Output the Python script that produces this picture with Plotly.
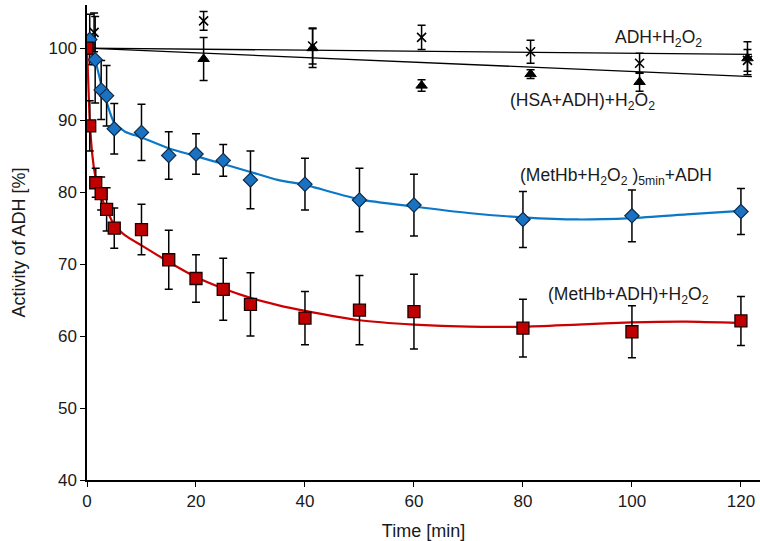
import plotly.graph_objects as go

# ---- data ----
time_red = [0, 0.5, 1.6, 2.6, 3.6, 5, 10, 15, 20, 25, 30, 40, 50, 60, 80, 100, 120]
red_vals = [100, 89.2, 81.3, 79.8, 77.6, 75.0, 74.8, 70.6, 68.0, 66.5, 64.4, 62.5, 63.6, 63.4, 61.1, 60.6, 62.1]
red_err = [0, 3.5, 2.0, 2.3, 3.0, 2.8, 3.5, 4.1, 3.3, 4.3, 4.4, 3.7, 4.8, 5.2, 4.0, 3.6, 3.4]

time_blue = [0, 0.5, 1.5, 2.6, 3.6, 5, 10, 15, 20, 25, 30, 40, 50, 60, 80, 100, 120]
blue_vals = [100, 101.2, 98.4, 94.2, 93.4, 88.8, 88.3, 85.1, 85.3, 84.4, 81.7, 81.1, 78.9, 78.2, 76.2, 76.7, 77.3]
blue_err = [0, 3.5, 6.0, 4.1, 4.2, 3.5, 3.9, 3.3, 2.8, 2.2, 4.0, 3.6, 4.4, 4.3, 3.9, 3.6, 3.2]

time_adh = [0, 1.3, 21.4, 41.4, 61.4, 81.4, 101.4, 121.2]
adh_vals = [100, 102.2, 103.8, 100.3, 101.5, 99.5, 97.9, 98.3]
adh_err = [0, 2.7, 1.3, 2.5, 1.7, 1.6, 1.4, 1.5]

time_hsa = [0, 21.4, 41.4, 61.4, 81.4, 101.4, 121.2]
hsa_vals = [100, 98.5, 100.0, 94.8, 96.4, 95.3, 98.6]
hsa_err = [0, 3.0, 2.7, 0.8, 0.6, 1.3, 2.3]

# fitted curves
fit_red_t = [0, 0.25, 0.5, 1, 1.5, 2, 3, 4, 5, 7, 10, 15, 20, 25, 30, 35, 40, 50, 60, 70, 80, 90, 100, 110, 120]
fit_red_y = [100, 95, 90, 85, 82.3, 80.7, 78.6, 76.9, 75.4, 74, 72.6, 70.3, 68.2, 66.6, 65.3, 64.3, 63.5, 62.2, 61.6, 61.3, 61.3, 61.6, 61.9, 62.0, 61.8]
fit_blue_t = [0, 1.5, 2.6, 3.6, 5, 7, 10, 15, 20, 25, 30, 35, 40, 50, 60, 70, 80, 90, 100, 110, 120]
fit_blue_y = [100, 98.2, 95.0, 92.5, 89.6, 88.4, 87.6, 86.1, 85.0, 83.9, 82.8, 81.7, 81.0, 79.0, 78.0, 77.1, 76.5, 76.2, 76.4, 76.9, 77.4]
fit_line_t = [0, 122]
fit_adh_y = [100, 99.15]
fit_hsa_y = [100, 96.05]

x_ticks = [0, 20, 40, 60, 80, 100, 120]
y_ticks = [40, 50, 60, 70, 80, 90, 100]

FONT = "Liberation Sans, Arial, sans-serif"

L, R, T, B = 87, 0, 5, 61
W, H = 760, 541
pw, ph = W - L - R, H - T - B

fig = go.Figure()

def err(arr):
    return dict(type="data", array=arr, visible=True, color="black", thickness=1.5, width=4)

# fitted lines
fig.add_trace(go.Scatter(x=fit_line_t, y=fit_adh_y, mode="lines", line=dict(color="black", width=1.3), hoverinfo="skip"))
fig.add_trace(go.Scatter(x=fit_line_t, y=fit_hsa_y, mode="lines", line=dict(color="black", width=1.3), hoverinfo="skip"))

# ADH+H2O2 (X markers)
fig.add_trace(go.Scatter(x=time_adh, y=adh_vals, mode="markers", error_y=err(adh_err),
                         marker=dict(symbol="x-thin-open", size=9, color="black", line=dict(color="black", width=1.6))))
# (HSA+ADH)+H2O2 (triangles)
fig.add_trace(go.Scatter(x=time_hsa, y=hsa_vals, mode="markers", error_y=err(hsa_err),
                         marker=dict(symbol="triangle-up", size=10, color="black", line=dict(color="black", width=1))))

# blue series
fig.add_trace(go.Scatter(x=fit_blue_t, y=fit_blue_y, mode="lines", line=dict(color="#0a78c8", width=2.2, shape="spline", smoothing=0.6), hoverinfo="skip"))
fig.add_trace(go.Scatter(x=time_blue, y=blue_vals, mode="markers", error_y=err(blue_err),
                         marker=dict(symbol="diamond", size=11, color="#1a73c2", line=dict(color="#0d2a4a", width=1.2))))

# red series
fig.add_trace(go.Scatter(x=fit_red_t, y=fit_red_y, mode="lines", line=dict(color="#cc0000", width=2.2, shape="spline", smoothing=0.6), hoverinfo="skip"))
fig.add_trace(go.Scatter(x=time_red, y=red_vals, mode="markers", error_y=err(red_err),
                         marker=dict(symbol="square", size=12, color="#c00000", line=dict(color="#1a0000", width=1.3))))

ann_font = dict(family=FONT, size=17.5, color="#1a1a1a")
annotations = [
    (658, 38, "ADH+H<sub>2</sub>O<sub>2</sub>"),
    (582, 101, "(HSA+ADH)+H<sub>2</sub>O<sub>2</sub>"),
    (616, 176, "(MetHb+H<sub>2</sub>O<sub>2</sub> )<sub>5min</sub>+ADH"),
    (628, 295, "(MetHb+ADH)+H<sub>2</sub>O<sub>2</sub>"),
]
for px, py, txt in annotations:
    fig.add_annotation(x=(px - L) / pw, y=1 - (py - T) / ph, xref="paper", yref="paper",
                       text=txt, showarrow=False, font=ann_font,
                       xanchor="center", yanchor="middle")

fig.update_layout(
    width=W, height=H,
    margin=dict(l=L, r=R, t=T, b=B),
    paper_bgcolor="white", plot_bgcolor="white",
    showlegend=False,
    font=dict(family=FONT, size=17, color="#1a1a1a"),
    xaxis=dict(range=[0, 123.5], tickvals=x_ticks, ticks="outside", ticklen=5, tickwidth=1.3,
               tickcolor="black", showline=True, linecolor="black", linewidth=1.5,
               showgrid=False, zeroline=False, automargin=False,
               tickfont=dict(family=FONT, size=17),
               title=dict(text="Time [min]", font=dict(family=FONT, size=18), standoff=14)),
    yaxis=dict(range=[40, 106], tickvals=y_ticks, ticks="outside", ticklen=5, tickwidth=1.3,
               tickcolor="black", showline=True, linecolor="black", linewidth=1.5,
               showgrid=False, zeroline=False, automargin=False,
               tickfont=dict(family=FONT, size=17),
               title=dict(text="Activity of ADH [%]", font=dict(family=FONT, size=18), standoff=18)),
)

fig.write_html("out.html", config={"displayModeBar": False},
               post_script="document.body.style.margin='0px';document.body.style.overflow='hidden';")
